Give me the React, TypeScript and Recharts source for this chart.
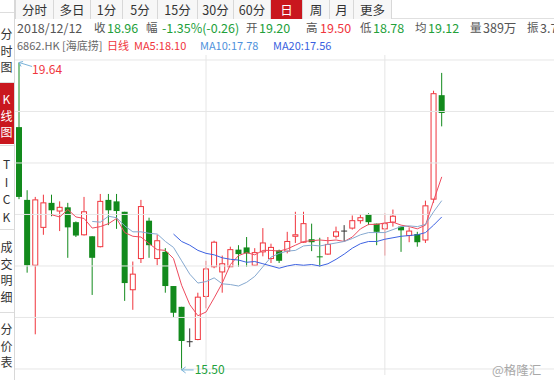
import React from 'react';
import { ComposedChart, Bar, Line, XAxis, YAxis, ReferenceLine, ReferenceDot } from 'recharts';

// ---- data ----
const opens = [18.77, 17.79, 16.91, 17.42, 17.75, 17.64, 17.69, 17.49, 17.32, 17.30, 17.16, 17.79, 17.77, 17.63, 16.58, 17.00, 17.51, 17.00, 17.09, 16.63, 16.35, 15.88, 15.91, 16.49, 16.89, 16.82, 16.89, 17.12, 17.15, 16.91, 17.09, 17.00, 17.11, 17.10, 17.30, 17.22, 17.26, 17.03, 17.06, 17.30, 17.37, 17.41, 17.51, 17.60, 17.47, 17.40, 17.49, 17.43, 17.31, 17.33, 17.25, 17.80, 19.20];
const highs = [19.64, 17.92, 17.83, 17.86, 17.86, 17.77, 17.75, 17.50, 17.83, 17.30, 17.87, 17.87, 17.87, 17.63, 16.96, 17.79, 17.55, 17.32, 17.14, 16.63, 16.35, 16.06, 16.54, 16.97, 17.24, 17.04, 17.16, 17.18, 17.29, 17.14, 17.41, 17.20, 17.12, 17.36, 17.63, 17.63, 17.47, 17.28, 17.29, 17.43, 17.45, 17.58, 17.60, 17.61, 17.47, 17.61, 17.66, 17.43, 17.42, 17.36, 17.78, 19.26, 19.50];
const lows = [17.80, 16.81, 15.98, 17.32, 17.57, 17.37, 17.01, 17.29, 17.31, 16.51, 17.15, 17.45, 17.40, 16.43, 16.31, 16.94, 17.01, 16.91, 16.54, 16.20, 15.50, 15.81, 15.90, 16.33, 16.87, 16.54, 16.89, 16.89, 16.89, 16.90, 17.03, 16.94, 16.94, 17.07, 17.21, 17.21, 17.10, 16.89, 17.05, 17.27, 17.23, 17.39, 17.47, 17.45, 17.18, 17.04, 17.43, 17.09, 17.22, 17.16, 17.21, 17.75, 18.78];
const closes = [17.83, 16.91, 17.79, 17.75, 17.65, 17.69, 17.42, 17.31, 17.63, 17.01, 17.77, 17.65, 17.64, 16.67, 16.79, 17.70, 17.18, 17.24, 16.63, 16.27, 15.89, 15.88, 16.48, 16.86, 17.22, 16.93, 17.12, 17.06, 17.07, 17.08, 17.21, 17.15, 16.97, 17.23, 17.32, 17.47, 17.22, 17.02, 17.19, 17.36, 17.37, 17.51, 17.55, 17.49, 17.36, 17.47, 17.57, 17.38, 17.37, 17.22, 17.71, 19.22, 18.96];
const ma5 = [null, null, null, null, 17.59, 17.56, 17.66, 17.56, 17.54, 17.41, 17.43, 17.47, 17.54, 17.35, 17.30, 17.29, 17.20, 17.12, 17.11, 17.00, 16.64, 16.38, 16.23, 16.28, 16.47, 16.67, 16.92, 17.04, 17.08, 17.05, 17.11, 17.11, 17.10, 17.13, 17.18, 17.23, 17.24, 17.25, 17.24, 17.25, 17.23, 17.29, 17.40, 17.46, 17.46, 17.48, 17.49, 17.45, 17.43, 17.40, 17.45, 17.78, 18.10];
const ma10 = [null, null, null, null, null, null, null, null, null, 17.50, 17.49, 17.57, 17.55, 17.44, 17.36, 17.36, 17.34, 17.33, 17.23, 17.15, 16.97, 16.79, 16.67, 16.69, 16.74, 16.66, 16.65, 16.63, 16.68, 16.76, 16.89, 17.02, 17.07, 17.10, 17.11, 17.17, 17.18, 17.17, 17.19, 17.21, 17.23, 17.27, 17.32, 17.35, 17.35, 17.35, 17.39, 17.43, 17.44, 17.43, 17.46, 17.63, 17.78];
const ma20 = [null, null, null, null, null, null, null, null, null, null, null, null, null, null, null, null, null, null, null, 17.33, 17.23, 17.18, 17.11, 17.07, 17.05, 17.01, 16.99, 16.98, 16.95, 16.96, 16.93, 16.90, 16.87, 16.90, 16.92, 16.91, 16.92, 16.90, 16.93, 16.99, 17.06, 17.14, 17.20, 17.23, 17.23, 17.26, 17.28, 17.30, 17.31, 17.32, 17.35, 17.45, 17.56];
const TOTAL_SLOTS = 70;
const categories = Array.from({ length: TOTAL_SLOTS }, (_, i) => String(i + 1));
const gridPrices = [15.513, 16.207, 16.9, 17.594, 18.287, 18.981, 19.674];
const monthLines = ['24', '46'];
const yDomain: [number, number] = [15.432, 19.741];
const tradeDate = '2018/12/12';
const prevClose = 19.22;
const avgPrice = '19.12';
const volume = '389万';
const tabs = ['分时', '多日', '1分', '5分', '15分', '30分', '60分', '日', '周', '月', '更多'];
const sideItems = ['分时图', 'K线图', 'TICK', '成交明细', '分价表'];

const data = categories.map((c, i) => ({
  day: c,
  open: i < opens.length ? opens[i] : null,
  high: i < highs.length ? highs[i] : null,
  low: i < lows.length ? lows[i] : null,
  close: i < closes.length ? closes[i] : null,
  range: i < closes.length ? [lows[i], highs[i]] : null,
  ma5: i < ma5.length ? ma5[i] : null,
  ma10: i < ma10.length ? ma10[i] : null,
  ma20: i < ma20.length ? ma20[i] : null,
}));

const RED = '#f0353d';
const GREEN = '#128a1c';
const TXT_GREEN = '#22a03a';
const ARROW = '#7ab3d9';
const FONT = '"Noto Sans CJK SC", "Noto Sans", sans-serif';

const Candle = (props: any) => {
  const { x, y, width, height, payload } = props;
  if (!payload || payload.open == null) return <g />;
  const { open, close, high, low } = payload;
  const top = Math.min(y, y + height);
  const h = Math.abs(height);
  const k = high === low ? 0 : h / (high - low);
  const yOf = (v: number) => top + (high - v) * k;
  const cx = x + width / 2;
  const up = close > open;
  const flat = close === open;
  const color = flat ? '#333' : up ? RED : GREEN;
  const bTop = yOf(Math.max(open, close));
  const bBot = yOf(Math.min(open, close));
  const yh = yOf(high);
  const yl = yOf(low);
  if (flat) {
    return (
      <g>
        <line x1={cx} x2={cx} y1={yh} y2={yl} stroke={color} strokeWidth={1} />
        <line x1={x} x2={x + width} y1={bTop} y2={bTop} stroke={color} strokeWidth={1} />
      </g>
    );
  }
  if (up) {
    return (
      <g>
        <line x1={cx} x2={cx} y1={yh} y2={bTop} stroke={color} strokeWidth={1} />
        <line x1={cx} x2={cx} y1={bBot} y2={yl} stroke={color} strokeWidth={1} />
        <rect x={x + 0.5} y={bTop} width={width - 1} height={Math.max(bBot - bTop, 1)} fill="#fff" stroke={color} strokeWidth={1} />
      </g>
    );
  }
  return (
    <g>
      <line x1={cx} x2={cx} y1={yh} y2={yl} stroke={color} strokeWidth={1} />
      <rect x={x} y={bTop} width={width} height={Math.max(bBot - bTop, 1)} fill={color} />
    </g>
  );
};

const HighMark = (props: any) => {
  const { cx, cy } = props;
  return (
    <g>
      <line x1={cx} y1={cy} x2={cx + 13} y2={cy + 4} stroke={ARROW} strokeWidth={1} />
      <polyline points={`${cx + 4},${cy - 1} ${cx},${cy} ${cx + 2},${cy + 4}`} fill="none" stroke={ARROW} strokeWidth={1} />
      <text x={cx + 13} y={cy + 11} fill={RED} fontSize={12} fontFamily={FONT}>{Math.max(...highs).toFixed(2)}</text>
    </g>
  );
};

const LowMark = (props: any) => {
  const { cx, cy } = props;
  return (
    <g>
      <line x1={cx} y1={cy} x2={cx + 12} y2={cy} stroke={ARROW} strokeWidth={1} />
      <polyline points={`${cx + 4},${cy - 3} ${cx},${cy} ${cx + 4},${cy + 3}`} fill="none" stroke={ARROW} strokeWidth={1} />
      <text x={cx + 13} y={cy + 4.5} fill={TXT_GREEN} fontSize={12} fontFamily={FONT}>{Math.min(...lows).toFixed(2)}</text>
    </g>
  );
};

const last = closes.length - 1;
const chg = closes[last] - prevClose;
const pct = (chg / prevClose) * 100;
const amp = ((highs[last] - lows[last]) / prevClose) * 100;

const abs = (left: number, top: number, extra: React.CSSProperties = {}): React.CSSProperties => ({
  position: 'absolute', left, top, whiteSpace: 'nowrap', ...extra,
});

const tabWidths = [38, 37, 32, 35, 40, 36, 37, 32, 27, 24, 39];
const sideBoxes = [
  { top: 12, height: 69, textTop: 25 },
  { top: 82, height: 62, textTop: 90 },
  { top: 145, height: 83, textTop: 154 },
  { top: 229, height: 82, textTop: 238 },
  { top: 312, height: 68, textTop: 320 },
];

export default function App() {
  const info1: Array<[number, string, string, number]> = [
    [17, tradeDate, '#555', 12.5],
    [94, '收', '#555', 11.5],
    [107, closes[last].toFixed(2), TXT_GREEN, 12.5],
    [146, '幅', '#555', 11.5],
    [162, `${pct.toFixed(2)}%(${chg.toFixed(2)})`, TXT_GREEN, 12.5],
    [246, '开', '#555', 11.5],
    [259, opens[last].toFixed(2), TXT_GREEN, 12.5],
    [306, '高', '#555', 11.5],
    [320, highs[last].toFixed(2), RED, 12.5],
    [360, '低', '#555', 11.5],
    [373, lows[last].toFixed(2), TXT_GREEN, 12.5],
    [415, '均', '#555', 11.5],
    [428, avgPrice, TXT_GREEN, 12.5],
    [470, '量', '#555', 11.5],
    [483, volume, '#555', 12.5],
    [527, '振', '#555', 11.5],
    [540, `${amp.toFixed(2)}%`, '#555', 12.5],
  ];
  let tabX = 15;
  return (
    <div style={{ position: 'fixed', left: 0, top: 0, width: 554, height: 380, overflow: 'hidden', background: '#fff', fontFamily: FONT }}>
      <div style={{ position: 'absolute', left: 0, top: 0 }}>
        <ComposedChart width={584} height={380} data={data} margin={{ top: 55, right: 0, bottom: 5, left: 15 }}>
          <XAxis dataKey="day" type="category" hide />
          <YAxis type="number" domain={yDomain} allowDataOverflow hide />
          {gridPrices.map((p) => (
            <ReferenceLine key={p} y={p} stroke="#e6e6e6" strokeWidth={1} ifOverflow="extendDomain" />
          ))}
          {monthLines.map((d) => (
            <ReferenceLine key={d} x={d} stroke="#e6e6e6" strokeWidth={1} />
          ))}
          <Bar dataKey="range" barSize={6} shape={<Candle />} isAnimationActive={false} />
          <Line type="linear" dataKey="ma5" stroke="#ee4b5e" strokeWidth={1} dot={false} isAnimationActive={false} />
          <Line type="linear" dataKey="ma10" stroke="#86a9d0" strokeWidth={1} dot={false} isAnimationActive={false} />
          <Line type="linear" dataKey="ma20" stroke="#3d62e2" strokeWidth={1} dot={false} isAnimationActive={false} />
          <ReferenceDot x={categories[highs.indexOf(Math.max(...highs))]} y={Math.max(...highs)} r={0} shape={<HighMark />} />
          <ReferenceDot x={categories[lows.indexOf(Math.min(...lows))]} y={Math.min(...lows)} r={0} shape={<LowMark />} />
        </ComposedChart>
      </div>

      {/* tab bar */}
      <div style={{ position: 'absolute', left: 0, top: 0, width: 554, height: 19, borderBottom: '1px solid #e0e0e0', boxSizing: 'border-box' }} />
      {tabs.map((t, i) => {
        const left = tabX;
        tabX += tabWidths[i];
        const sel = t === '日';
        return (
          <div key={t} style={abs(left, 0, {
            width: tabWidths[i], height: 19, boxSizing: 'border-box',
            borderLeft: '1px solid #d8d8d8', borderRight: i === tabs.length - 1 ? '1px solid #d8d8d8' : undefined,
            background: sel ? '#c9171e' : '#f7f7f7', color: sel ? '#fff' : '#333',
            fontSize: 12.5, lineHeight: '19px', textAlign: 'center',
          })}>{t}</div>
        );
      })}

      {/* info rows */}
      {info1.map(([x, s, c, fs], i) => (
        <div key={i} style={abs(x, 19, { fontSize: fs, lineHeight: '17px', color: c })}>{s}</div>
      ))}
      <div style={abs(17, 37, { fontSize: 11, lineHeight: '16px', color: '#666' })}>6862.HK [海底捞]</div>
      <div style={abs(107, 37, { fontSize: 11, lineHeight: '16px', color: RED })}>日线</div>
      <div style={abs(134, 37, { fontSize: 11, lineHeight: '16px', color: RED })}>{`MA5:${ma5[last]!.toFixed(2)}`}</div>
      <div style={abs(200, 37, { fontSize: 11, lineHeight: '16px', color: '#4f92dc' })}>{`MA10:${ma10[last]!.toFixed(2)}`}</div>
      <div style={abs(273, 37, { fontSize: 11, lineHeight: '16px', color: '#3a5fe0' })}>{`MA20:${ma20[last]!.toFixed(2)}`}</div>

      {/* sidebar */}
      <div style={{ position: 'absolute', left: 0, top: 0, width: 15, height: 380, background: '#fff', borderRight: '1px solid #d8d8d8', boxSizing: 'border-box' }} />
      {sideItems.map((s, i) => {
        const b = sideBoxes[i];
        const sel = s === 'K线图';
        return (
          <div key={s} style={abs(0, b.top, {
            width: 14, height: b.height, overflow: 'hidden', boxSizing: 'border-box',
            borderTop: '1px solid #dddddd', background: sel ? '#c9171e' : '#fff',
          })}>
            <div style={{ position: 'absolute', left: 0, top: b.textTop - b.top, width: 13, textAlign: 'center', fontSize: 12, lineHeight: s === 'TICK' ? '17.5px' : '16.7px', color: sel ? '#fff' : '#333' }}>
              {s.split('').map((ch, j) => <div key={j}>{ch}</div>)}
            </div>
          </div>
        );
      })}

      {/* watermark */}
      <div style={abs(492, 362, { fontSize: 12.5, lineHeight: '16px', color: '#a8a8a8' })}>@格隆汇</div>
    </div>
  );
}
